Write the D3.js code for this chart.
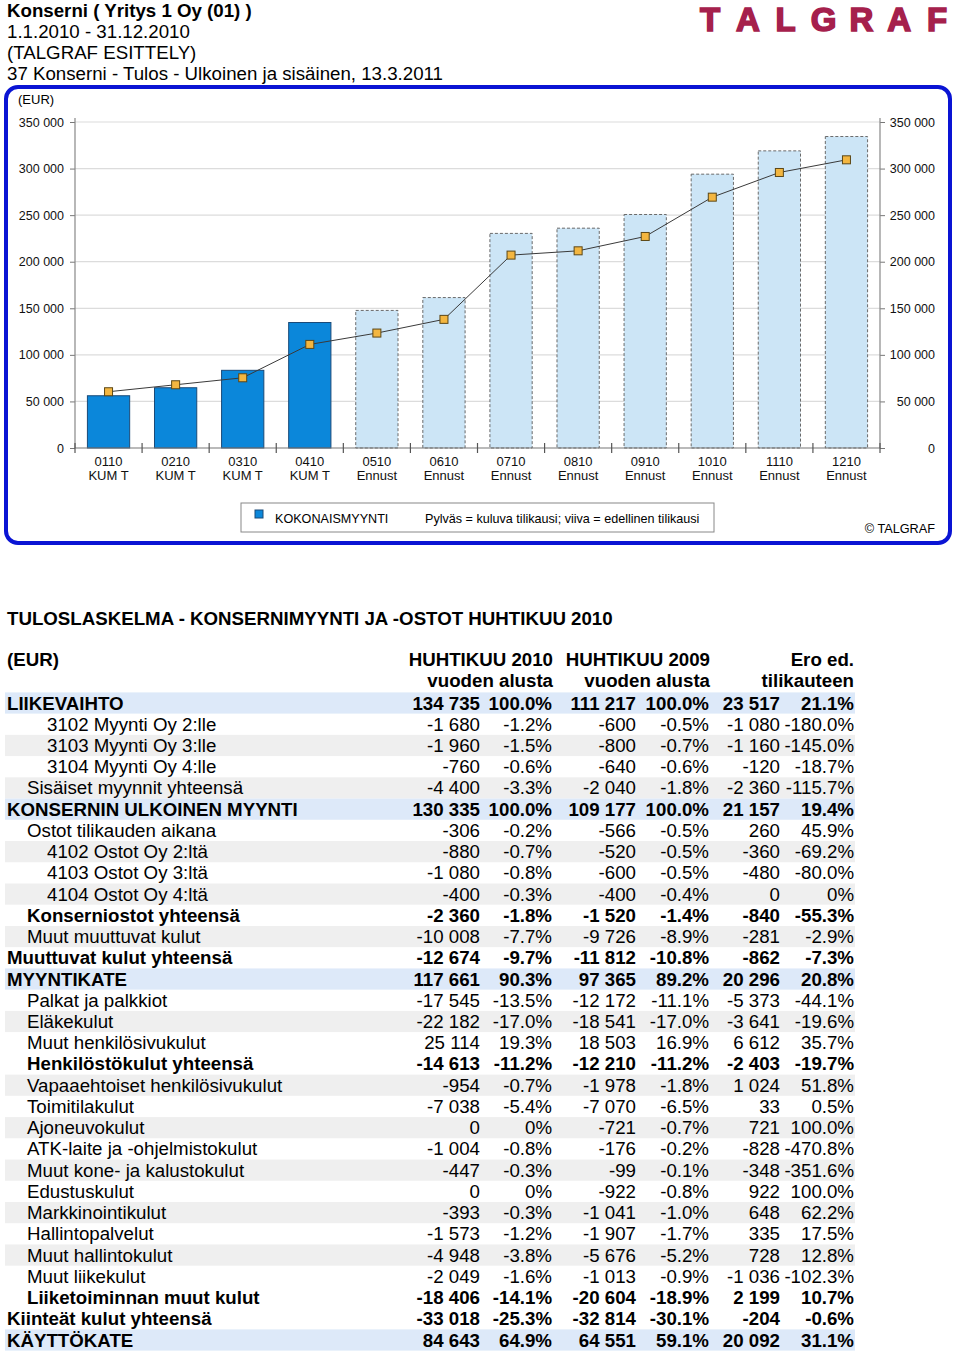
<!DOCTYPE html>
<html><head><meta charset="utf-8">
<script src="https://cdn.jsdelivr.net/npm/d3@7"></script>
<style>
html,body{margin:0;padding:0;background:#fff;}
svg{display:block;font-family:"Liberation Sans",Arial,sans-serif;}
</style></head>
<body><svg id="c" width="960" height="1354"></svg>
<script>
// ---------- DATA ----------
const headerLines = ["Konserni ( Yritys 1 Oy (01) )","1.1.2010 - 31.12.2010","(TALGRAF ESITTELY)","37 Konserni - Tulos - Ulkoinen ja sisäinen, 13.3.2011"];
const logoLetters = ["T","A","L","G","R","A","F"];
const periods = ["0110","0210","0310","0410","0510","0610","0710","0810","0910","1010","1110","1210"];
const periodTypes = ["KUM T","KUM T","KUM T","KUM T","Ennust","Ennust","Ennust","Ennust","Ennust","Ennust","Ennust","Ennust"];
const isForecast = [false,false,false,false,true,true,true,true,true,true,true,true];
const currentYear = [56100,64700,83400,134735,147700,161500,230400,236000,250700,294000,319000,334400];
const previousYear = [60400,67900,75400,111217,123400,138100,207100,211700,227100,269300,295800,309400];
const yTicks = [0,50000,100000,150000,200000,250000,300000,350000];
const legendSeries = "KOKONAISMYYNTI";
const legendNote = "Pylväs = kuluva tilikausi; viiva = edellinen tilikausi";

const tableTitle = "TULOSLASKELMA - KONSERNIMYYNTI JA -OSTOT HUHTIKUU 2010";
const colHeads1 = ["HUHTIKUU 2010","HUHTIKUU 2009","Ero ed."];
const colHeads2 = ["vuoden alusta","vuoden alusta","tilikauteen"];
const rowLabels = ["LIIKEVAIHTO","3102 Myynti Oy 2:lle","3103 Myynti Oy 3:lle","3104 Myynti Oy 4:lle","Sisäiset myynnit yhteensä","KONSERNIN ULKOINEN MYYNTI","Ostot tilikauden aikana","4102 Ostot Oy 2:ltä","4103 Ostot Oy 3:ltä","4104 Ostot Oy 4:ltä","Konserniostot yhteensä","Muut muuttuvat kulut","Muuttuvat kulut yhteensä","MYYNTIKATE","Palkat ja palkkiot","Eläkekulut","Muut henkilösivukulut","Henkilöstökulut yhteensä","Vapaaehtoiset henkilösivukulut","Toimitilakulut","Ajoneuvokulut","ATK-laite ja -ohjelmistokulut","Muut kone- ja kalustokulut","Edustuskulut","Markkinointikulut","Hallintopalvelut","Muut hallintokulut","Muut liikekulut","Liiketoiminnan muut kulut","Kiinteät kulut yhteensä","KÄYTTÖKATE"];
const rowLevel = [0,2,2,2,1,0,1,2,2,2,1,1,0,0,1,1,1,1,1,1,1,1,1,1,1,1,1,1,1,0,0];
const rowTotal = [1,0,0,0,0,1,0,0,0,0,1,0,1,1,0,0,0,1,0,0,0,0,0,0,0,0,0,0,1,1,1];
const rowKind  = ["key","n","s","n","s","key","n","s","n","s","n","s","n","key","n","s","n","n","s","n","s","n","s","n","s","n","s","n","n","n","key"];
const val2010 = [134735,-1680,-1960,-760,-4400,130335,-306,-880,-1080,-400,-2360,-10008,-12674,117661,-17545,-22182,25114,-14613,-954,-7038,0,-1004,-447,0,-393,-1573,-4948,-2049,-18406,-33018,84643];
const pct2010 = [100.0,-1.2,-1.5,-0.6,-3.3,100.0,-0.2,-0.7,-0.8,-0.3,-1.8,-7.7,-9.7,90.3,-13.5,-17.0,19.3,-11.2,-0.7,-5.4,0,-0.8,-0.3,0,-0.3,-1.2,-3.8,-1.6,-14.1,-25.3,64.9];
const val2009 = [111217,-600,-800,-640,-2040,109177,-566,-520,-600,-400,-1520,-9726,-11812,97365,-12172,-18541,18503,-12210,-1978,-7070,-721,-176,-99,-922,-1041,-1907,-5676,-1013,-20604,-32814,64551];
const pct2009 = [100.0,-0.5,-0.7,-0.6,-1.8,100.0,-0.5,-0.5,-0.5,-0.4,-1.4,-8.9,-10.8,89.2,-11.1,-17.0,16.9,-11.2,-1.8,-6.5,-0.7,-0.2,-0.1,-0.8,-1.0,-1.7,-5.2,-0.9,-18.9,-30.1,59.1];
const valDiff = [23517,-1080,-1160,-120,-2360,21157,260,-360,-480,0,-840,-281,-862,20296,-5373,-3641,6612,-2403,1024,33,721,-828,-348,922,648,335,728,-1036,2199,-204,20092];
const pctDiff = [21.1,-180.0,-145.0,-18.7,-115.7,19.4,45.9,-69.2,-80.0,0,-55.3,-2.9,-7.3,20.8,-44.1,-19.6,35.7,-19.7,51.8,0.5,100.0,-470.8,-351.6,100.0,62.2,17.5,12.8,-102.3,10.7,-0.6,31.1];

// ---------- DRAW ----------
const svg = d3.select("#c");
const loc = d3.formatLocale({decimal:".",thousands:" ",grouping:[3],currency:["",""],minus:"-"});
const fNum = loc.format(",d");
const fPct = v => v === 0 ? "0%" : v.toFixed(1) + "%";
const FS = 18.7;

// Header
svg.selectAll("text.hdr").data(headerLines).join("text")
  .attr("class","hdr").attr("x",7).attr("y",(d,i)=>17+i*21)
  .attr("font-size",FS).attr("font-weight",(d,i)=>i===0?"bold":"normal")
  .attr("fill","#000").text(d=>d);

// Logo
const logoX = d3.scalePoint().domain(d3.range(logoLetters.length)).range([710,937]);
svg.append("g").selectAll("text").data(logoLetters).join("text")
  .attr("x",(d,i)=>logoX(i)).attr("y",31).attr("text-anchor","middle")
  .attr("font-size",33).attr("font-weight","bold")
  .attr("fill","#a5204c").attr("stroke","#a5204c").attr("stroke-width",1.6)
  .text(d=>d);

// Frame
svg.append("rect").attr("x",6).attr("y",87).attr("width",944).attr("height",456)
  .attr("rx",12).attr("fill","none").attr("stroke","#0a14d4").attr("stroke-width",4);

// Chart scales
const x = d3.scaleBand().domain(periods).range([75,880]).padding(0);
const y = d3.scaleLinear().domain([0,350000]).range([448,122]);
const bw = x.bandwidth()*0.63;
const fAxis = loc.format(",d");

// grid
svg.append("g").selectAll("line").data(yTicks.filter(d=>d>0)).join("line")
  .attr("x1",75).attr("x2",880).attr("y1",d=>y(d)).attr("y2",d=>y(d))
  .attr("stroke","#dcdcdc").attr("stroke-width",1.2);

// axes
const gl = svg.append("g").attr("transform","translate(75,0)")
  .call(d3.axisLeft(y).tickValues(yTicks).tickSize(5).tickFormat(fAxis));
gl.select(".domain").remove();
gl.selectAll(".tick line").attr("stroke","#777");
gl.selectAll(".tick text").attr("x",-11).attr("font-size",12.5).attr("font-family","Liberation Sans, Arial").attr("fill","#111");
const gr = svg.append("g").attr("transform","translate(880,0)")
  .call(d3.axisRight(y).tickValues(yTicks).tickSize(5).tickFormat(fAxis));
gr.select(".domain").remove();
gr.selectAll(".tick line").attr("stroke","#777");
gr.selectAll(".tick text").attr("x",55).attr("text-anchor","end").attr("font-size",12.5).attr("font-family","Liberation Sans, Arial").attr("fill","#111");
svg.append("line").attr("x1",75).attr("x2",75).attr("y1",118).attr("y2",448).attr("stroke","#888").attr("stroke-width",1.2);
svg.append("line").attr("x1",880).attr("x2",880).attr("y1",118).attr("y2",448).attr("stroke","#888").attr("stroke-width",1.2);

svg.append("text").attr("x",18).attr("y",104).attr("font-size",13).text("(EUR)");

// bars
svg.append("g").selectAll("rect").data(periods).join("rect")
  .attr("x",(d)=>x(d)+(x.bandwidth()-bw)/2)
  .attr("y",(d,i)=>y(currentYear[i]))
  .attr("width",bw)
  .attr("height",(d,i)=>y(0)-y(currentYear[i]))
  .attr("fill",(d,i)=>isForecast[i]?"#cce5f6":"#0b87da")
  .attr("stroke",(d,i)=>isForecast[i]?"#6a6a6a":"#1a4a78")
  .attr("stroke-width",1)
  .attr("stroke-dasharray",(d,i)=>isForecast[i]?"3,2":null);

// x axis
svg.append("line").attr("x1",75).attr("x2",880).attr("y1",448).attr("y2",448).attr("stroke","#777").attr("stroke-width",1.2);
const bounds = periods.map(p=>x(p)).concat([880]);
svg.append("g").selectAll("line").data(bounds).join("line")
  .attr("x1",d=>d).attr("x2",d=>d).attr("y1",443).attr("y2",453).attr("stroke","#555").attr("stroke-width",1.2);
const xl = svg.append("g").selectAll("text").data(periods).join("text")
  .attr("x",d=>x(d)+x.bandwidth()/2).attr("text-anchor","middle").attr("font-size",13).attr("fill","#111");
xl.append("tspan").attr("x",d=>x(d)+x.bandwidth()/2).attr("y",466).text(d=>d);
xl.append("tspan").attr("x",d=>x(d)+x.bandwidth()/2).attr("y",480).text((d,i)=>periodTypes[i]);

// line
const line = d3.line().x((d,i)=>x(periods[i])+x.bandwidth()/2).y(d=>y(d));
svg.append("path").datum(previousYear).attr("d",line).attr("fill","none").attr("stroke","#3a3a3a").attr("stroke-width",1);
svg.append("g").selectAll("rect").data(previousYear).join("rect")
  .attr("x",(d,i)=>x(periods[i])+x.bandwidth()/2-4).attr("y",d=>y(d)-4)
  .attr("width",8).attr("height",8).attr("fill","#f3b640").attr("stroke","#5c4716").attr("stroke-width",1);

// legend
svg.append("rect").attr("x",241).attr("y",503).attr("width",473).attr("height",29).attr("fill","#fff").attr("stroke","#888").attr("stroke-width",1);
svg.append("rect").attr("x",255).attr("y",510).attr("width",8).attr("height",8).attr("fill","#0b87da").attr("stroke","#1a4a78");
svg.append("text").attr("x",275).attr("y",523).attr("font-size",12.6).text(legendSeries);
svg.append("text").attr("x",425).attr("y",523).attr("font-size",12.6).text(legendNote);
svg.append("text").attr("x",935).attr("y",533).attr("text-anchor","end").attr("font-size",12.7).text("© TALGRAF");

// ---------- TABLE ----------
svg.append("text").attr("x",7).attr("y",625).attr("font-size",FS).attr("font-weight","bold").text(tableTitle);
const colRight = [553,710,854];
svg.append("text").attr("x",7).attr("y",666).attr("font-size",FS).attr("font-weight","bold").text("(EUR)");
colHeads1.forEach((h,i)=>{
  svg.append("text").attr("x",colRight[i]).attr("y",666).attr("text-anchor","end").attr("font-size",FS).attr("font-weight","bold").text(h);
  svg.append("text").attr("x",colRight[i]).attr("y",687).attr("text-anchor","end").attr("font-size",FS).attr("font-weight","bold").text(colHeads2[i]);
});

const ry = d3.scaleLinear().domain([0,30]).range([703,1340]);
const bg = {key:"#dde9f9", s:"#efefef", n:"none"};
const tg = svg.append("g");
rowLabels.forEach((lab,i)=>{
  const cy = ry(i);
  if (bg[rowKind[i]] !== "none")
    tg.append("rect").attr("x",5).attr("y",cy-10.6).attr("width",850).attr("height",21.2).attr("fill",bg[rowKind[i]]);
  const fw = rowTotal[i] ? "bold" : "normal";
  const by = cy + 6.5;
  tg.append("text").attr("x",7+rowLevel[i]*20).attr("y",by).attr("font-size",FS).attr("font-weight",fw).text(lab);
  const cells = [[480,fNum(val2010[i])],[552,fPct(pct2010[i])],[636,fNum(val2009[i])],[709,fPct(pct2009[i])],[780,fNum(valDiff[i])],[854,fPct(pctDiff[i])]];
  cells.forEach(c=>{
    tg.append("text").attr("x",c[0]).attr("y",by).attr("text-anchor","end").attr("font-size",FS).attr("font-weight",fw).text(c[1]);
  });
});
</script></body></html>
